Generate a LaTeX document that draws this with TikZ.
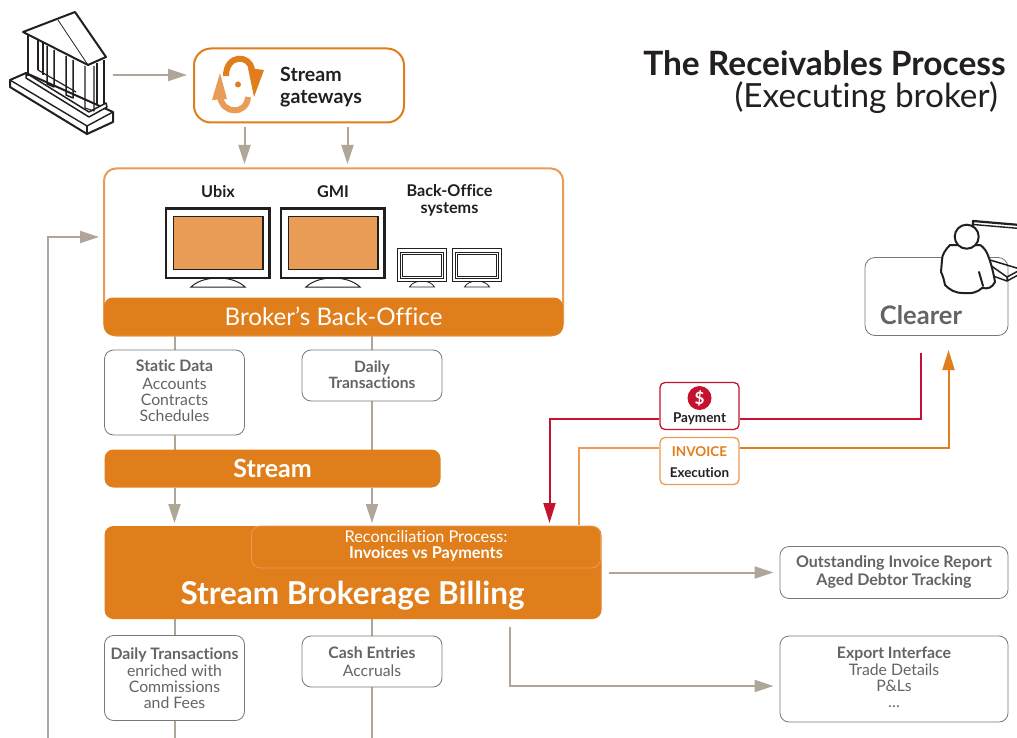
\documentclass[tikz,border=0pt]{standalone}
\usepackage{fontspec}
\setmainfont[Ligatures=CommonOff]{Lato}
\usetikzlibrary{arrows.meta}
\definecolor{orm}{HTML}{E07E1B}
\definecolor{orl}{HTML}{E89C55}
\definecolor{grayarrow}{HTML}{AFA598}
\definecolor{graybox}{HTML}{77787B}
\definecolor{graytext}{HTML}{636466}
\definecolor{crimson}{HTML}{C4122F}
\definecolor{inkk}{HTML}{231F20}
\tikzset{
  x=1pt,y=-1pt,
  flow/.style={draw=grayarrow,line width=2pt,-{Triangle[length=19pt,width=12pt]}},
  plain/.style={draw=grayarrow,line width=2pt},
  greybox/.style={draw=graybox,line width=0.8pt,fill=white,rounded corners=9pt,inner sep=0pt,align=center},
  greytext/.style={inner sep=0pt,align=center,text=graytext,font=\fontsize{15.8}{16}\selectfont},
  orangebar/.style={fill=orm,rounded corners=9pt,inner sep=0pt,text=white,align=center},
  screenframe/.style={draw=inkk,line width=2.4pt,fill=white},
  screeninner/.style={draw=inkk,line width=1.2pt},
  standshape/.style={draw=inkk,line width=1pt,fill=white},
  ink/.style={draw=inkk,line width=2pt,line join=round},
  lab/.style={inner sep=0pt,align=center,text=inkk,font=\fontsize{16.2}{17}\selectfont\bfseries},
}
\begin{document}
\begin{tikzpicture}
\useasboundingbox (0,0) rectangle (1017,738);
\clip (0,0) rectangle (1017,738);
\fill[white] (0,0) rectangle (1017,738);

% Bank
\draw[ink,fill=white] (10,80) -- (26,73) -- (113,112) -- (113,122) -- (87,134) -- (10,87) -- cycle;
\draw[ink,line width=1.4pt] (10,80) -- (87,126) -- (113,112);
\draw[ink,line width=1.4pt] (87,126) -- (87,134);
\draw[ink,line width=1.5pt,fill=white] (26,73) -- (26,78) -- (89,117) -- (107,107) -- (106,103) -- (89,112) -- cycle;
\draw[ink,line width=1.2pt] (38,70) -- (76,92);
\draw[ink,line width=1.8pt] (28,33) -- (28,76);
\draw[ink,line width=1.2pt] (38,38) -- (38,70);
\draw[ink,line width=1.1pt] (43,42) -- (43,75);
\draw[ink,line width=1.5pt] (47,46) -- (47,84) -- (54,87) -- (54,50);
\draw[ink,line width=1.5pt] (66,56) -- (66,95) -- (73,98) -- (73,60);
\draw[ink,line width=1.1pt] (85,66) -- (85,108) -- (94,111) -- (94,66);
\draw[ink,line width=1.1pt] (97,63) -- (97,105);
\draw[ink,line width=1.8pt] (104,60) -- (104,104);
\draw[ink,fill=white] (23,32) -- (75,12) -- (106,57) -- (88,65) -- cycle;
\draw[inkk,line width=0.8pt] (58,20) -- (88,65);

% Stream gateways
\node[draw=orm,line width=2pt,fill=white,rounded corners=17pt,minimum width=210pt,minimum height=74pt,inner sep=0pt] (gw) at (299,85.5) {};
\node[lab,anchor=west,align=left,font=\fontsize{19.6}{22}\selectfont\bfseries] (gwtext) at (280,87) {Stream\\gateways};
\draw[orl,line width=6pt] (248,97) .. controls (247,115) and (222,115) .. (220,96);
\draw[orm,line width=6pt] (226,76) .. controls (226,54) and (250,54) .. (252,70);
\fill[orm] (248,68) -- (264,70) -- (254,97) -- cycle;
\fill[orl] (212,100) -- (227,99) -- (220,73) -- cycle;
\fill[orm] (238,84.5) circle (3);
\coordinate (bankout) at (113,75);
\draw[flow] (bankout) -- (187,75);
\coordinate (gwa) at (244.5,127);
\coordinate (gwb) at (347.5,127);
\draw[flow] (gwa) -- (244.5,164);
\draw[flow] (gwb) -- (347.5,164);

% Back office
\node[draw=orl,line width=2pt,fill=white,rounded corners=12pt,minimum width=459pt,minimum height=167pt,inner sep=0pt] (bo) at (333.5,252) {};
\node[orangebar,minimum width=459pt,minimum height=38pt,font=\fontsize{24.2}{25}\selectfont] (bobar) at (333.5,316.5) {Broker’s Back-Office};
\node[lab] (ubix) at (218,191.5) {Ubix};
\node[lab] (gmi) at (333,191.5) {GMI};
\node[lab] (bosys) at (449.5,200.5) {Back-Office\\systems};
% monitors
\draw[standshape] (191,287) .. controls (203,275) and (233,275) .. (245,287) -- cycle;
\draw[screenframe] (166,208.5) rectangle (269.5,278);
\draw[screeninner,fill=orl] (173.5,216.5) rectangle (263,269.5);
\draw[standshape] (306,287) .. controls (318,275) and (348,275) .. (360,287) -- cycle;
\draw[screenframe] (281,208.5) rectangle (384.5,278);
\draw[screeninner,fill=orl] (288.5,216.5) rectangle (378,269.5);
\draw[standshape,line width=.8pt] (409.5,287) .. controls (414,279) and (430,279) .. (434.5,287) -- cycle;
\draw[screenframe,line width=1.8pt] (397.5,248.5) rectangle (446.5,281.5);
\draw[screeninner,line width=.9pt] (400.5,252) rectangle (443.5,278);
\draw[screeninner,line width=.5pt] (402.5,254) rectangle (441.5,276);
\draw[standshape,line width=.8pt] (464.5,287) .. controls (469,279) and (485,279) .. (489.5,287) -- cycle;
\draw[screenframe,line width=1.8pt] (452.5,248.5) rectangle (501.5,281.5);
\draw[screeninner,line width=.9pt] (455.5,252) rectangle (498.5,278);
\draw[screeninner,line width=.5pt] (457.5,254) rectangle (496.5,276);

% feedback line
\coordinate (fb) at (47.5,738);
\draw[flow] (fb) -- (47.5,237) -- (99,237);

% connectors behind boxes
\draw[plain] (174.5,336) -- (174.5,350);
\draw[plain] (372,336) -- (372,350);
\draw[plain] (174.5,435) -- (174.5,450);
\draw[plain] (372,401) -- (372,450);
\draw[flow] (174.5,488) -- (174.5,523);
\draw[flow] (372,488) -- (372,523);
\draw[plain] (174.5,619) -- (174.5,636);
\draw[plain] (372,619) -- (372,636);
\draw[plain] (174.5,721) -- (174.5,738);
\draw[plain] (372,687) -- (372,738);

% grey boxes
\node[greybox,minimum width=140pt,minimum height=85pt] (static) at (174.5,392.5) {};
\node[greytext] at (174.5,390.5) {\textbf{Static Data}\\[2pt]Accounts\\Contracts\\Schedules};
\node[greybox,minimum width=140pt,minimum height=51pt] (daily) at (372,375.5) {};
\node[greytext,font=\fontsize{15.6}{15.5}\selectfont\bfseries] at (372,375) {Daily\\Transactions};
\node[orangebar,minimum width=336pt,minimum height=38pt,font=\fontsize{25}{26}\selectfont\bfseries] (stream) at (272.5,468.5) {Stream};

% Billing
\node[orangebar,minimum width=497pt,minimum height=93pt] (billing) at (353,572.5) {};
\node[text=white,inner sep=0pt,font=\fontsize{31.5}{33}\selectfont\bfseries] (billtext) at (352.5,595.5) {Stream Brokerage Billing};
\node[draw=orl,line width=.8pt,rounded corners=9pt,minimum width=349pt,minimum height=42pt,inner sep=0pt] (recon) at (426,547) {};
\node[text=white,inner sep=0pt,align=center,font=\fontsize{16.3}{16.5}\selectfont] at (426,546) {Reconciliation Process:\\\textbf{Invoices vs Payments}};

\node[greybox,minimum width=140pt,minimum height=85pt] (enrich) at (174.5,678) {};
\node[greytext] at (174.5,678) {\textbf{Daily Transactions}\\[1pt]enriched with\\Commissions\\and Fees};
\node[greybox,minimum width=140pt,minimum height=51pt] (cash) at (372,661.5) {};
\node[greytext,font=\fontsize{15.8}{18}\selectfont] at (372,661.5) {\textbf{Cash Entries}\\Accruals};

% Right outputs
\node[greybox,minimum width=228pt,minimum height=52pt] (report) at (894,572.5) {};
\node[greytext,font=\fontsize{16}{18}\selectfont\bfseries] at (894,572) {Outstanding Invoice Report\\Aged Debtor Tracking};
\node[greybox,minimum width=228pt,minimum height=86pt] (export) at (894,679) {};
\node[greytext] at (894,677) {\textbf{Export Interface}\\[1pt]Trade Details\\P\&Ls\\…};
\coordinate (repsrc) at (609,572.5);
\draw[flow,shorten >=6pt] (repsrc) -- (report.west);
\coordinate (expsrc) at (509.5,627);
\draw[flow,shorten >=6pt] (expsrc) -- (509.5,686) -- (export.west |- 0,686);

% Clearer
\node[draw=graybox,line width=.8pt,fill=white,rounded corners=10pt,minimum width=143pt,minimum height=78pt,inner sep=0pt] (clearer) at (936.5,296.5) {};
\node[inner sep=0pt,text=graytext,font=\fontsize{25.5}{26}\selectfont\bfseries] at (921,315) {Clearer};
% laptop
\draw[ink,line width=2.2pt] (973,227) -- (973,221) -- (1020,225);
\draw[ink,line width=1.4pt] (973,224.5) -- (1020,228.5);
\draw[ink,line width=1.5pt] (990,260) -- (1020,269);
\draw[ink,line width=1.5pt] (990,265) -- (1007,277) -- (1020,270);
\draw[ink,line width=1.5pt] (1007,277) -- (1007,281) -- (1020,274);
\draw[ink,line width=1.5pt] (993,276) -- (1007,281);
% person
\draw[ink,fill=white] (950,245) .. controls (945,250) and (942,255) .. (942,260)
  -- (941,272) .. controls (943,276) and (944,280) .. (945,285) .. controls (950,290) and (955,293) .. (963,293)
  .. controls (972,294) and (978,292) .. (982,288) .. controls (988,289) and (992,288) .. (995,282)
  .. controls (993,270) and (990,260) .. (987,253) .. controls (985,249) and (982,246) .. (980,245)
  -- cycle;
\draw[inkk,line width=2pt,line cap=round] (979,272) -- (983,286);
\draw[ink,fill=white] (966.7,236.7) circle (12);

% Payment / Invoice
\node[draw=crimson,line width=1.3pt,fill=white,rounded corners=5pt,minimum width=79pt,minimum height=47pt,inner sep=0pt] (pay) at (699.5,406) {};
\fill[crimson] (699.5,398) circle (12);
\node[text=white,inner sep=0pt,font=\fontsize{17}{17}\selectfont\bfseries] at (699.5,398) {\$};
\node[inner sep=0pt,text=inkk,font=\fontsize{13.5}{14}\selectfont\bfseries] at (699.5,419) {Payment};
\node[draw=orl,line width=1.3pt,fill=white,rounded corners=5pt,minimum width=79pt,minimum height=47pt,inner sep=0pt] (inv) at (699.5,461) {};
\node[inner sep=0pt,text=orm,font=\fontsize{13.5}{14}\selectfont\bfseries] at (699.5,451.5) {INVOICE};
\node[inner sep=0pt,text=inkk,font=\fontsize{13.4}{14}\selectfont\bfseries] at (699.5,472.5) {Execution};
\coordinate (clearred) at (920.5,353);
\coordinate (clearor) at (948.5,350);
\coordinate (billor) at (578.5,525);
\draw[crimson,line width=2pt] (clearred) -- (920.5,419) -- (pay.east |- 0,419);
\draw[crimson,line width=2pt,-{Triangle[length=20pt,width=12pt]}] (pay.west |- 0,419) -- (549.5,419) -- (549.5,523);
\draw[orl,line width=2pt] (billor) -- (578.5,447.5) -- (inv.west |- 0,447.5);
\draw[orm,line width=2pt,-{Triangle[length=20pt,width=12pt]}] (inv.east |- 0,447.5) -- (948.5,447.5) -- (clearor);

% Title
\node[anchor=east,inner sep=0pt,text=inkk,font=\fontsize{33.5}{35}\selectfont\bfseries] (title) at (1006,63.5) {The Receivables Process};
\node[anchor=east,inner sep=0pt,text=inkk,font=\fontsize{33.3}{35}\selectfont] (subtitle) at (998,98) {(Executing broker)};
\end{tikzpicture}
\end{document}
